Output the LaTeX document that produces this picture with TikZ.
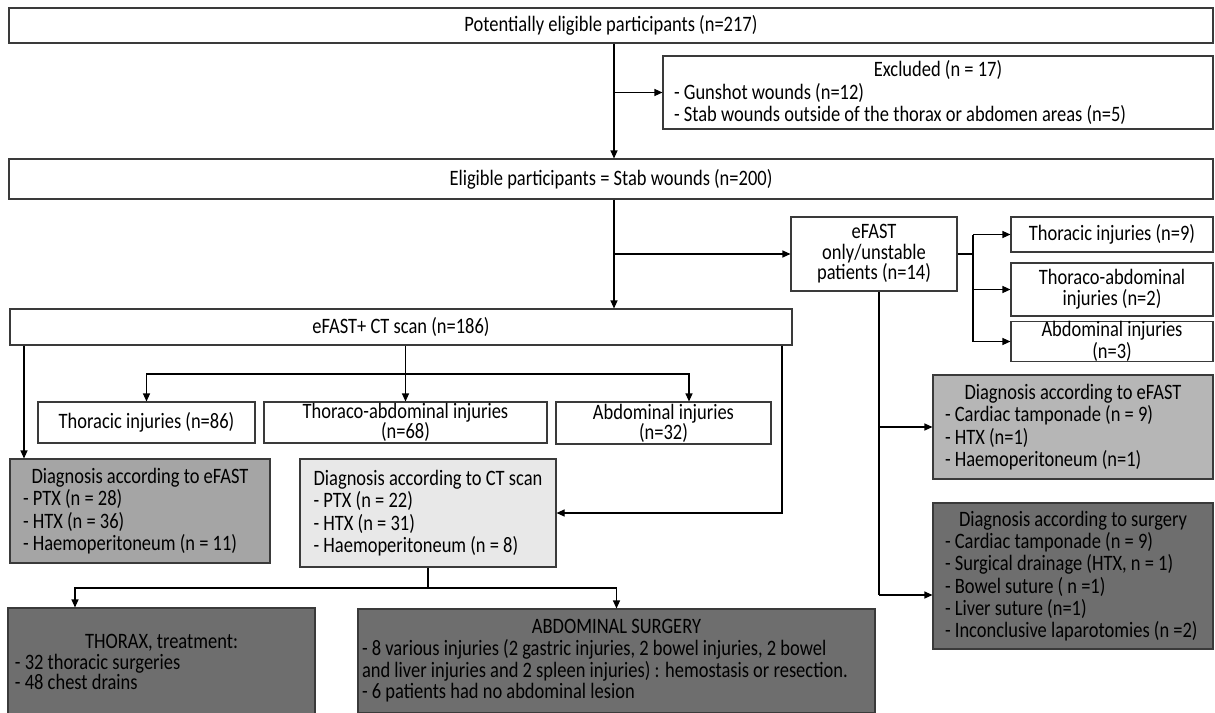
\documentclass[tikz,border=0pt]{standalone}
\usepackage{fontspec}
\setmainfont{Carlito}[FakeStretch=0.84]
\usetikzlibrary{arrows.meta}
\definecolor{bd}{HTML}{3A3A3A}
\definecolor{midg}{HTML}{A5A5A5}
\definecolor{midlg}{HTML}{B6B6B6}
\definecolor{lightg}{HTML}{E8E8E8}
\definecolor{darkg}{HTML}{6E6E6E}
\newcommand{\bx}[6]{\node[box,#6,minimum width={#4-#2},minimum height={#5-#3}] (#1) at ({(#2+#4)/2},{(#3+#5)/2})}
\newcommand{\ttl}[2]{\makebox[#1pt][c]{#2}}
\tikzset{
 box/.style={draw=bd, line width=1.1pt, rectangle, inner sep=0pt, font=\fontsize{22}{22.3}\selectfont, align=center},
 lbox/.style={box, align=left},
 arr/.style={draw=black, line width=1.1pt, -{Triangle[length=8pt,width=7pt]}},
 ln/.style={draw=black, line width=1.1pt},
}
\begin{document}
\begin{tikzpicture}[x=1pt,y=-1pt]
\fill[white] (0,0) rectangle (1215,712);
\useasboundingbox (0,0) rectangle (1215,712);

\bx{top}{9}{8}{1213}{43}{} {Potentially eligible participants (n=217)};
\bx{excl}{663}{56}{1213}{129}{lbox,inner xsep=11pt}
 {\ttl{528}{Excluded (n = 17)}\\- Gunshot  wounds (n=12)\\- Stab wounds outside of the thorax or abdomen areas (n=5)};
\bx{elig}{9}{159}{1213}{199}{} {Eligible participants = Stab wounds (n=200)};
\bx{eonly}{791}{217}{957}{291}{font=\fontsize{22}{20.5}\selectfont} {eFAST\\only/unstable\\patients (n=14)};
\bx{rth}{1011}{217}{1213}{252}{} {Thoracic injuries  (n=9)};
\bx{rta}{1011}{263}{1213}{316}{font=\fontsize{22}{21}\selectfont} {Thoraco-abdominal\\injuries  (n=2)};
\bx{rab}{1011}{322}{1213}{361}{} {Abdominal injuries\\(n=3)};
\bx{ect}{10}{309}{792}{345}{} {eFAST+ CT scan (n=186)};
\bx{thor}{38}{402}{255}{443}{} {Thoracic injuries  (n=86)};
\bx{tab}{264}{402}{547}{443}{font=\fontsize{22}{20}\selectfont} {Thoraco-abdominal  injuries\\(n=68)};
\bx{abd}{556}{402}{771}{444}{font=\fontsize{22}{20}\selectfont} {Abdominal  injuries\\(n=32)};
\bx{diagE}{10}{459}{270}{563}{lbox,fill=midg,inner xsep=13pt}
 {\ttl{234}{Diagnosis according to eFAST}\\- PTX (n = 28)\\- HTX (n = 36)\\- Haemoperitoneum  (n = 11)};
\bx{ct}{300}{459}{556}{567}{lbox,fill=lightg,inner xsep=12pt}
 {Diagnosis according to CT scan\\- PTX (n = 22)\\- HTX (n = 31)\\- Haemoperitoneum  (n = 8)};
\bx{diagR}{933}{375}{1213}{479}{lbox,fill=midlg,inner xsep=12pt}
 {\ttl{256}{Diagnosis according to eFAST}\\- Cardiac tamponade (n = 9)\\- HTX (n=1)\\- Haemoperitoneum  (n=1)};
\bx{surg}{933}{503}{1213}{649}{lbox,fill=darkg,inner xsep=12pt}
 {\ttl{256}{Diagnosis according to surgery}\\- Cardiac tamponade (n = 9)\\- Surgical drainage (HTX, n = 1)\\- Bowel suture ( n =1)\\- Liver suture (n=1)\\- Inconclusive  laparotomies (n =2)};
\bx{thorax}{8}{608}{315}{716}{lbox,fill=darkg,inner xsep=7pt,font=\fontsize{22}{20.7}\selectfont}
 {\ttl{293}{THORAX, treatment:}\\- 32 thoracic surgeries\\- 48 chest drains};
\bx{abs}{358}{609}{875}{713}{lbox,fill=darkg,inner xsep=4pt,font=\fontsize{22}{21.7}\selectfont}
 {\ttl{509}{ABDOMINAL SURGERY}\\- 8 various injuries (2 gastric injuries, 2 bowel injuries,  2 bowel\\and liver injuries and 2 spleen injuries) : hemostasis or resection.\\- 6 patients had no abdominal lesion};

\coordinate (xA) at (614,0);
\draw[arr] (xA |- top.south) -- (xA |- elig.north);
\draw[arr] (xA |- excl.west) -- (excl.west);
\draw[arr] (xA |- elig.south) -- (xA |- ect.north);
\draw[arr] (xA |- eonly.west) -- (eonly.west);
\coordinate (xJ) at (973,0);
\draw[ln] (eonly.east) -- (xJ |- eonly.east);
\draw[ln] (xJ |- rth.west) -- (xJ |- rab.west);
\draw[arr] (xJ |- rth.west) -- (rth.west);
\draw[arr] (xJ |- rta.west) -- (rta.west);
\draw[arr] (xJ |- rab.west) -- (rab.west);
\draw[arr] (ect.south -| tab.north) -- (tab.north);
\coordinate (yB) at (0,374);
\coordinate (xAb) at (689,0);
\draw[arr] (yB -| tab.north) -| (thor.north);
\draw[arr] (yB -| tab.north) -| (xAb |- abd.north);
\coordinate (xL) at (24,0);
\draw[arr] (xL |- ect.south) -- (xL |- diagE.north);
\coordinate (xR) at (782,0);
\draw[arr] (xR |- ect.south) |- (ct.east);
\coordinate (yC) at (0,588);
\coordinate (xT) at (75,0);
\draw[ln] (ct.south) -- (yC -| ct.south);
\draw[arr] (yC -| ct.south) -| (xT |- thorax.north);
\draw[arr] (yC -| ct.south) -| (abs.north);
\coordinate (xE) at (879,0);
\coordinate (yS) at (0,595);
\draw[ln] (xE |- eonly.south) -- (xE |- yS);
\draw[arr] (xE |- diagR.west) -- (diagR.west);
\draw[arr] (xE |- yS) -- (yS -| surg.west);
\end{tikzpicture}
\end{document}
